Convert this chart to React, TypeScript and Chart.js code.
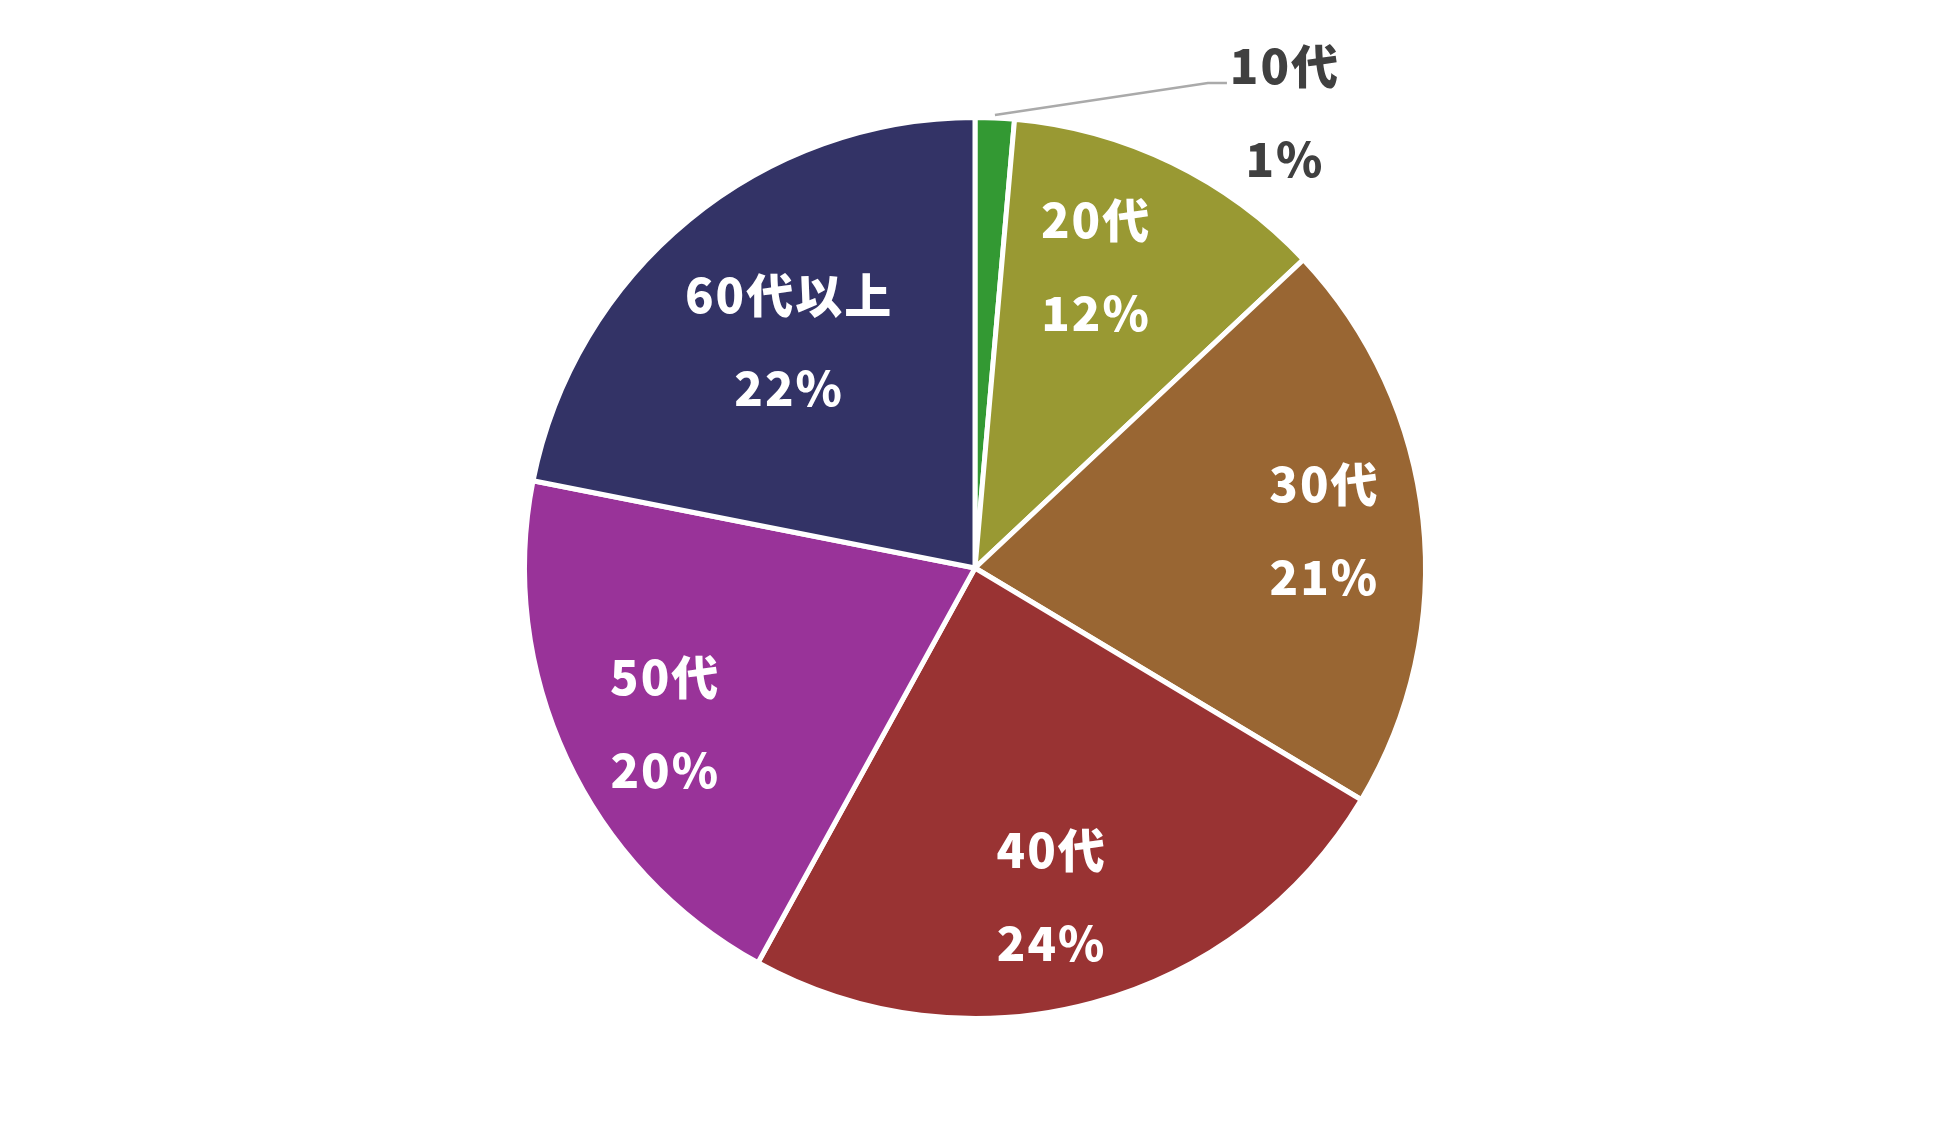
import React, { useEffect, useRef } from "react";
import { Chart, registerables } from "chart.js";

Chart.register(...registerables);

const categories = ["10代", "20代", "30代", "40代", "50代", "60代以上"];
const shares = [1.4, 11.6, 20.6, 24.4, 20.1, 21.9];
const sliceColors = ["#339933", "#999933", "#996633", "#993333", "#993399", "#333366"];

const labelPlugin = {
  id: "sliceLabels",
  afterDatasetsDraw(chart: any, _args: any, opts: any) {
    const ctx = chart.ctx as CanvasRenderingContext2D;
    const meta = chart.getDatasetMeta(0);
    const data = chart.data.datasets[0].data as number[];
    const total = data.reduce((a, b) => a + b, 0);
    ctx.save();
    ctx.font = `900 ${opts.fontSize}px "Noto Sans CJK JP"`;
    ctx.textAlign = "center";
    ctx.textBaseline = "middle";
    (ctx as any).letterSpacing = opts.letterSpacing;
    meta.data.forEach((arc: any, i: number) => {
      const { x, y, startAngle, endAngle, outerRadius } = arc.getProps(
        ["x", "y", "startAngle", "endAngle", "outerRadius"],
        true
      );
      const mid = (startAngle + endAngle) / 2 + (opts.shift[i] || 0);
      const pct = Math.round((data[i] / total) * 100) + "%";
      const name = chart.data.labels[i];
      const f = opts.radii[i];
      let cx: number;
      let cy: number;
      if (f == null) {
        const ex = x + Math.cos(mid) * (outerRadius + 3);
        const ey = y + Math.sin(mid) * (outerRadius + 3);
        const bx = ex + opts.elbow.dx;
        const by = ey + opts.elbow.dy;
        ctx.strokeStyle = opts.leaderColor;
        ctx.lineWidth = 2.5;
        ctx.beginPath();
        ctx.moveTo(ex, ey);
        ctx.lineTo(bx, by);
        ctx.lineTo(bx + opts.tail, by);
        ctx.stroke();
        cx = bx + opts.tail + opts.textDx;
        cy = by + opts.textDy;
        ctx.fillStyle = opts.outsideColor;
      } else {
        cx = x + Math.cos(mid) * outerRadius * f;
        cy = y + Math.sin(mid) * outerRadius * f;
        ctx.fillStyle = "#ffffff";
      }
      ctx.fillText(name, cx, cy - opts.lineGap / 2);
      ctx.fillText(pct, cx, cy + opts.lineGap / 2);
    });
    ctx.restore();
  },
};

export default function App() {
  const ref = useRef<HTMLCanvasElement | null>(null);
  useEffect(() => {
    if (!ref.current) return;
    const chart = new Chart(ref.current, {
      type: "pie",
      data: {
        labels: categories,
        datasets: [
          {
            data: shares,
            backgroundColor: sliceColors,
            borderColor: "#ffffff",
            borderWidth: 5,
          },
        ],
      },
      options: {
        responsive: false,
        animation: false,
        layout: { padding: { top: 115, bottom: 115, left: 0, right: 0 } },
        plugins: {
          legend: { display: false },
          tooltip: { enabled: false },
          sliceLabels: {
            fontSize: 47,
            letterSpacing: "2px",
            lineGap: 93,
            radii: [null, 0.72, 0.78, 0.75, 0.77, 0.65],
            shift: [0, -0.07, 0, 0.035, -0.03, 0],
            elbow: { dx: 213, dy: -32 },
            tail: 19,
            textDx: 58,
            textDy: 30,
            leaderColor: "#aaaaaa",
            outsideColor: "#404040",
          },
        } as any,
      },
      plugins: [labelPlugin],
    });
    return () => chart.destroy();
  }, []);
  return (
    <div style={{ position: "absolute", left: 0, top: 0, width: 1950, height: 1136, background: "#fff" }}>
      <canvas ref={ref} width={1950} height={1136} style={{ display: "block" }} />
    </div>
  );
}
